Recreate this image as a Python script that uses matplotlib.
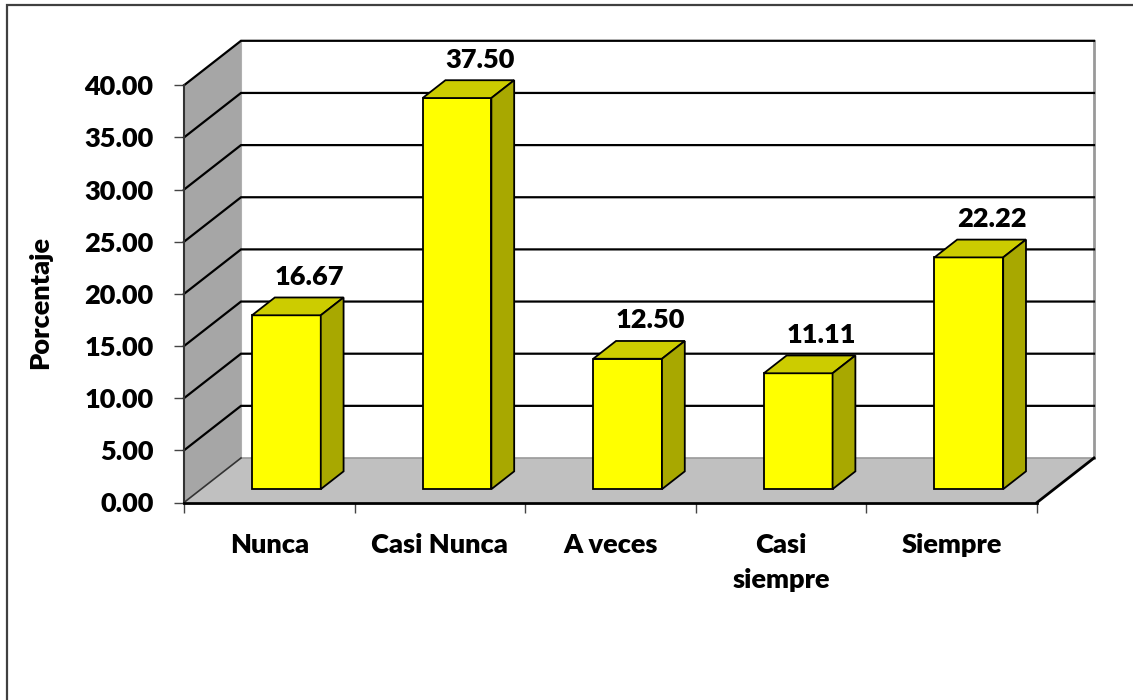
import matplotlib
matplotlib.use("Agg")
import matplotlib.pyplot as plt
from matplotlib.patches import Polygon, Rectangle
from matplotlib.ticker import FormatStrFormatter

# Datos
categorias = ['Nunca', 'Casi Nunca', 'A veces', 'Casi\nsiempre', 'Siempre']
porcentajes = [16.67, 37.50, 12.50, 11.11, 22.22]
yticks = [0, 5, 10, 15, 20, 25, 30, 35, 40]

plt.rcParams['font.family'] = ['Lato', 'DejaVu Sans']
PESO = 'heavy'
FS = 19.5

W, H = 1133, 700
fig = plt.figure(figsize=(W / 100, H / 100), dpi=100)

# marco exterior del grafico
fig.patches.append(Rectangle((7 / W, -0.05), 1.1, 1 - 5 / H + 0.05, transform=fig.transFigure,
                             fill=False, edgecolor='#404040', linewidth=1.6))

# el eje ocupa el plano frontal
x0, x1 = 184, 1037
y0, y40 = 502.5, 85.3
ax = fig.add_axes([x0 / W, 1 - y0 / H, (x1 - x0) / W, (y0 - y40) / H])
ax.set_xlim(-0.5, 4.5)
ax.set_ylim(0, 40)
ax.patch.set_visible(False)
for s in ['top', 'right']:
    ax.spines[s].set_visible(False)
ax.spines['left'].set_color('#333333')
ax.spines['left'].set_linewidth(1.5)
ax.spines['bottom'].set_color('black')
ax.spines['bottom'].set_linewidth(2)
ax.spines['left'].set_zorder(6)
ax.spines['bottom'].set_zorder(6)

# profundidad del efecto 3D en unidades de datos
DX = 57 / ((x1 - x0) / 5)
DY = 44.5 / ((y0 - y40) / 40)
n = len(categorias)
xl, xr = -0.5, n - 0.5

def poly(pts, fc, ec='none', lw=0, z=1):
    ax.add_patch(Polygon(pts, closed=True, facecolor=fc, edgecolor=ec,
                         linewidth=lw, zorder=z, clip_on=False, joinstyle='miter'))

# pared del fondo
poly([(xl + DX, DY), (xr + DX, DY), (xr + DX, 40 + DY), (xl + DX, 40 + DY)], 'white', z=1)
ax.plot([xr + DX, xr + DX], [DY, 40 + DY], color='#999999', lw=2, clip_on=False, zorder=2)
ax.plot([xl + DX, xl + DX], [DY, 40 + DY], color='#b0b0b0', lw=1.5, clip_on=False, zorder=2)
# pared lateral
poly([(xl, 0), (xl, 40), (xl + DX, 40 + DY), (xl + DX, DY)], '#a6a6a6', z=2)
# piso
poly([(xl, 0), (xr, 0), (xr + DX, DY), (xl + DX, DY)], '#c0c0c0', z=2)
ax.plot([xl + DX, xr + DX], [DY, DY], color='#9a9a9a', lw=1.2, clip_on=False, zorder=3)
ax.plot([xr, xr + DX], [0, DY], color='black', lw=2, clip_on=False, zorder=3)
ax.plot([xl, xl + DX], [0, DY], color='#333333', lw=1.2, clip_on=False, zorder=3)

# lineas de division
for v in yticks[1:]:
    ax.plot([xl, xl + DX, xr + DX], [v, v + DY, v + DY], color='black', lw=1.6,
            clip_on=False, zorder=3, solid_joinstyle='miter')

# barras
ancho = 0.403
d0, d1 = 0.3, 0.7
for i, v in enumerate(porcentajes):
    bx0 = i - ancho / 2 + d0 * DX
    bx1 = i + ancho / 2 + d0 * DX
    by = d0 * DY
    ex, ey = (d1 - d0) * DX, (d1 - d0) * DY
    poly([(bx0, by), (bx1, by), (bx1, v + by), (bx0, v + by)], '#ffff00', 'black', 1.3, z=5)
    poly([(bx0, v + by), (bx1, v + by), (bx1 + ex, v + by + ey), (bx0 + ex, v + by + ey)],
         '#cccc00', 'black', 1.3, z=5)
    poly([(bx1, by), (bx1 + ex, by + ey), (bx1 + ex, v + by + ey), (bx1, v + by)],
         '#a8a800', 'black', 1.3, z=5)
    ax.annotate(f'{v:.2f}', (i + d1 * DX, v + d1 * DY), xytext=(0, 9),
                textcoords='offset points', ha='center', va='baseline',
                fontsize=FS, fontweight=PESO, annotation_clip=False, zorder=7)

# ejes
ax.set_yticks(yticks)
ax.yaxis.set_major_formatter(FormatStrFormatter('%.2f'))
ax.tick_params(axis='y', length=7, width=1, color='#444444', pad=15, labelsize=FS)
ax.set_xticks(range(n))
ax.set_xticklabels(categorias, fontsize=FS, fontweight=PESO, linespacing=1.55, va='top')
ax.set_xticks([k - 0.5 for k in range(n + 1)], minor=True)
ax.tick_params(axis='x', which='major', length=0, pad=22)
ax.tick_params(axis='x', which='minor', length=7, width=1, color='#444444')
for lab in ax.get_yticklabels():
    lab.set_fontweight(PESO)

fig.text(40 / W, 1 - 302 / H, 'Porcentaje', rotation=90, ha='center', va='center',
         fontsize=FS, fontweight=PESO)

fig.savefig('out.png', dpi=100)
